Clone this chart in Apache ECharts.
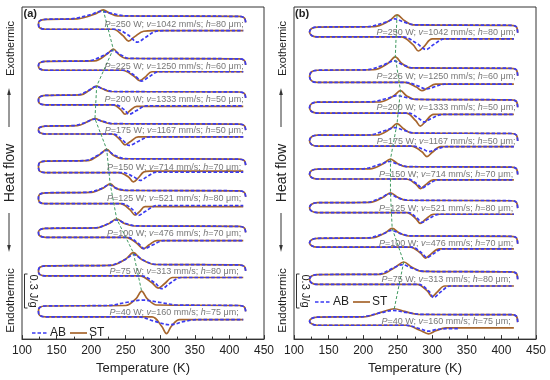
<!DOCTYPE html>
<html><head><meta charset="utf-8">
<script src="https://cdn.jsdelivr.net/npm/echarts@6/dist/echarts.min.js"></script>
<style>html,body{margin:0;padding:0;background:#fff}#c{width:550px;height:380px}</style>
</head><body><div id="c"></div>
<script>
// ---- data (heat flow in arbitrary offset units; 33.6 units = 0.3 J/g) ----
const xTicks = [100,150,200,250,300,350,400,450];
const P = [250,225,200,175,150,125,100,75,40];
const V = [1042,1250,1333,1167,714,521,476,313,160];
const H = [80,60,50,50,70,80,70,80,75];

// panel (a): baseline levels
const aUR = [326.5,283.5,250,217.5,182,150,114,75,34];
const aUL = [323.5,281,246.5,215.5,180,148,112,74,33.5];
const aLL = [313.5,272,237,207.5,168.5,137,103,64,22.5];
// panel (a): cooling (upper) features, high T -> low T
const aSTcool = [
 [[238,327],[226,330],[217.5,333],[206,329],[180,324]],
 [[250,284],[240,288],[232,293.5],[224,289],[205,281.5]],
 [[228,250.5],[217,253],[208,256],[198,252],[185,247]],
 [[228,218],[215,220.5],[205.5,223],[195,220],[180,216]],
 [[245,182.5],[232,186],[222.5,192],[213,187],[195,180.5]],
 [[248,150.5],[236,152.5],[227.5,157],[218,153],[200,148.5]],
 [[262,114.5],[248,117],[237,121.5],[226,117],[208,112.5]],
 [[292,75.5],[272,81],[261,87.5],[250,81],[228,74.5]],
 [[295,34.5],[281,41],[273,48.5],[265,41],[250,34]]
];
const aABcool = [
 [[250,327],[230,329.5],[214,331.5],[198,328],[170,324]],
 [[255,284],[242,288],[231,292],[220,287.5],[195,281.5]],
 [[232,250.5],[218,253],[207,255.5],[195,251],[180,247]],
 [[232,218],[216,220.5],[205,222.5],[193,219.5],[175,216]],
 [[250,182.5],[234,186],[222,191],[210,186],[190,180.5]],
 [[252,150.5],[237,152.5],[226,156],[214,152],[195,148.5]],
 [[265,114.5],[250,117],[236,120.5],[224,116.5],[205,112.5]],
 [[295,75.5],[275,80],[262,85.5],[248,80],[225,74.5]],
 [[325,34.5],[300,37],[275,39.5],[250,37],[225,34]]
];
// panel (a): heating (lower) features, low T -> high T
const aSTheat = [
 [[232,313.5],[246,307],[254,301.5],[263,306],[276,311.5],[290,312]],
 [[245,272],[262,266],[270.5,261.5],[278,265],[288,270.5]],
 [[232,237],[243,232],[249,227.5],[256,231],[266,235.5]],
 [[230,207.5],[242,201.5],[249,196.5],[257,200],[268,204.5]],
 [[240,168.5],[254,164],[261,159],[268,163],[276,169],[285,170]],
 [[242,137],[256,131],[263.5,125.5],[270,129],[278,134]],
 [[250,103],[266,97],[275.5,91.5],[284,95.5],[295,99.7]],
 [[270,64],[288,57],[297,51.5],[306,56],[318,62.3]],
 [[288,22.5],[302,13],[309,5.5],[316,13],[328,19.7]]
];
const aABheat = [
 [[235,313.5],[253,308],[267,300.5],[278,305],[292,311],[305,312]],
 [[248,272],[264,266],[273,261],[283,265],[298,270.5]],
 [[235,237],[248,232],[255,227.5],[265,231],[280,236]],
 [[232,207.5],[246,201],[255,196],[268,200],[285,204.7]],
 [[245,168.5],[262,164],[271,160.5],[280,164],[295,169]],
 [[245,137],[260,131],[268,125],[278,129],[295,135]],
 [[252,103],[268,97],[277,91.5],[288,95],[305,99.7]],
 [[272,64],[292,57],[302,51],[313,56],[330,62.3]],
 [[268,22.5],[292,18],[314,14.5],[335,18],[355,19.7]]
];
const aHeatEnd = [420,420,420,420,420,420,420,420,420];

// panel (b)
const bUR = [317.5,274,242,208,174,140,104,68,24.7];
const bUL = [315.7,272,239.7,206.3,172,138,102,65.3,22.3];
const bLL = [305.7,259.7,228.7,195.3,162,128,93,55.3,14];
const bSTcool = [
 [[272,318],[260,322],[249,328],[238,322],[215,316]],
 [[268,274.5],[256,279],[246.5,285.5],[236,279],[215,272.5]],
 [[275,242.5],[263,246],[254,251.3],[244,246],[225,240]],
 [[270,208.5],[259,212.5],[249,218],[239,212.5],[220,206.5]],
 [[262,174.5],[250,177.5],[239.5,182],[229,177.5],[210,172.3]],
 [[262,140.5],[250,143.5],[239.5,148],[229,143.5],[210,138.3]],
 [[265,104.5],[252,107.5],[242,112],[232,107.5],[212,102.3]],
 [[285,68.5],[270,73],[258.7,78],[247,73],[225,65.5]],
 [[280,25],[260,28],[245,30.7],[228,27.5],[200,22.5]]
];
const bABcool = [
 [[275,318],[258,321],[246,324],[232,320.5],[205,316]],
 [[272,274.5],[256,278],[244,281.5],[230,277.5],[205,272.5]],
 [[278,242.5],[262,244.5],[249,246.3],[235,243.5],[210,240]],
 [[274,208.5],[258,211.5],[246,214],[232,211],[208,206.5]],
 [[265,174.5],[250,177],[238,179.7],[225,177],[200,172.3]],
 [[265,140.5],[250,143],[238,147],[226,143],[205,138.3]],
 [[268,104.5],[253,107],[241,110],[229,106.5],[205,102.3]],
 [[288,68.5],[270,72],[257,75.3],[244,72],[220,65.5]],
 [[285,25],[262,27],[243,29],[225,26.5],[195,22.5]]
];
const bSTheat = [
 [[255,305.7],[272,298],[280,291.5],[288,296],[300,303.7]],
 [[260,259.7],[277,255],[285,251.3],[293,254],[305,258]],
 [[262,228.7],[276,221],[282.7,215.5],[290,220],[302,227.3]],
 [[270,195.3],[285,189.5],[292.3,184.7],[300,189],[312,194.7]],
 [[262,162],[276,157],[282.7,152.3],[290,156],[302,161]],
 [[263,128],[276,122],[282.7,117],[290,121],[302,126.3]],
 [[268,93],[283,87],[290,82],[298,86],[310,91.3]],
 [[278,55.3],[293,48.5],[299.6,43],[307,47.5],[318,53.7]],
 [[262,14],[282,9],[294.6,5.3],[305,8.5],[320,11.3]]
];
const bABheat = [
 [[258,305.7],[278,299],[291,293],[302,298],[318,303.7]],
 [[262,259.7],[280,256],[291,253],[302,255],[318,258]],
 [[265,228.7],[280,223.5],[288,219.7],[298,223],[315,227.3]],
 [[272,195.3],[287,192],[295,189.7],[305,192],[320,194.7]],
 [[264,162],[278,157],[285,153],[293,156],[308,161]],
 [[265,128],[278,122.5],[285,118],[294,121.5],[310,126.3]],
 [[270,93],[285,87],[292,82.5],[301,86],[315,91.3]],
 [[280,55.3],[295,48.5],[302,42],[311,47],[326,53.7]],
 [[262,14],[282,10.5],[294.6,8],[305,9.5],[320,10.5]]
];
const bSTheatEnd = [418,418,418,418,418,418,418,418,418];
const bABheatEnd = [418,418,418,418,418,418,418,418,339];

// ---- styling ----
const FONT = 'Liberation Sans, Arial, sans-serif';
const C_AB = '#3a3af2', C_ST = '#a6652c', C_G = '#3f9a60';

function loop(UR, UL, LL, cool, heat, endT, hook, leftT){
  const pts = [[423.5, UR-hook],[421.5, UR-1.5],[414, UR]];
  cool.forEach(p=>pts.push(p));
  pts.push([134, UL],[125.5, UL-1.5],[leftT,(UL+LL)/2],[125.5, LL+1.5],[134, LL]);
  heat.forEach(p=>pts.push(p));
  pts.push([endT, heat[heat.length-1][1]]);
  return pts;
}
const series = [];
function panel(g, UR, UL, LL, STc, ABc, STh, ABh, STend, ABend, hook, leftT){
  for(let i=0;i<9;i++){
    series.push({type:'line', xAxisIndex:g, yAxisIndex:g, showSymbol:false, symbol:'none', smooth:0.35,
      data: loop(UR[i],UL[i],LL[i],STc[i],STh[i],STend[i],hook,leftT),
      lineStyle:{color:C_ST, width:1.7}, z:2, silent:true});
  }
  for(let i=0;i<9;i++){
    series.push({type:'line', xAxisIndex:g, yAxisIndex:g, showSymbol:false, symbol:'none', smooth:0.35,
      data: loop(UR[i],UL[i],LL[i],ABc[i],ABh[i],ABend[i],hook,leftT),
      lineStyle:{color:C_AB, width:1.7, type:[3.5,2]}, z:3, silent:true});
  }
  series.push({type:'line', xAxisIndex:g, yAxisIndex:g, showSymbol:false, symbol:'none',
    data: STc.map(c=>c[2]), lineStyle:{color:C_G, width:1, type:[3,2]}, z:4, silent:true});
  series.push({type:'scatter', xAxisIndex:g, yAxisIndex:g, symbolSize:1, itemStyle:{color:'rgba(0,0,0,0)'}, z:5, silent:true,
    data: UR.map((u,i)=>[320,(u+LL[i])/2-1.5]),
    label:{show:true, position:'inside', fontSize:9, color:'#555', fontFamily:FONT,
      formatter: p=>'{i|P}='+P[p.dataIndex]+' W; {i|v}='+V[p.dataIndex]+' mm/s; {i|h}='+H[p.dataIndex]+' μm;',
      rich:{i:{fontStyle:'italic', fontSize:9, color:'#555', fontFamily:FONT}}}});
}
panel(0, aUR,aUL,aLL, aSTcool,aABcool,aSTheat,aABheat, aHeatEnd,aHeatEnd, 6, 123.8);
panel(1, bUR,bUL,bLL, bSTcool,bABcool,bSTheat,bABheat, bSTheatEnd,bABheatEnd, 7.5, 122.5);

function txt(x,y,t,size,rot,extra){
  return Object.assign({type:'text', x:x, y:y, rotation:rot||0, silent:true,
    style:{text:t, fontSize:size, fontFamily:FONT, fill:'#222', align:'center', verticalAlign:'middle', textAlign:'center', textVerticalAlign:'middle'}}, extra||{});
}
const graphic = [];
[0,272].forEach(ox=>{
  graphic.push(txt(ox+11,48.5,'Exothermic',11,Math.PI/2));
  graphic.push({type:'line', silent:true, shape:{x1:ox+9,y1:127,x2:ox+9,y2:93}, style:{stroke:'#333',lineWidth:1}});
  graphic.push({type:'polygon', silent:true, shape:{points:[[ox+9,88],[ox+7.2,95],[ox+10.8,95]]}, style:{fill:'#333'}});
  graphic.push(txt(ox+10,173,'Heat flow',14,Math.PI/2));
  graphic.push({type:'line', silent:true, shape:{x1:ox+9,y1:213,x2:ox+9,y2:247}, style:{stroke:'#333',lineWidth:1}});
  graphic.push({type:'polygon', silent:true, shape:{points:[[ox+9,252],[ox+7.2,245],[ox+10.8,245]]}, style:{fill:'#333'}});
  graphic.push(txt(ox+11,300.5,'Endothermic',11.5,Math.PI/2));
  graphic.push({type:'polyline', silent:true, shape:{points:[[ox+27.5,274],[ox+24.5,274],[ox+24.5,308],[ox+27.5,308]]}, style:{stroke:'#333',lineWidth:1,fill:null}});
  graphic.push(txt(ox+33.5,291,'0.3 J/g',11,-Math.PI/2));
});
function legend(x,y){
  graphic.push({type:'line', silent:true, shape:{x1:x,y1:y,x2:x+16,y2:y}, style:{stroke:C_AB,lineWidth:1.7,lineDash:[3.5,2]}});
  graphic.push({type:'text', silent:true, x:x+18, y:y, style:{text:'AB', fontSize:12, fontFamily:FONT, fill:'#222', verticalAlign:'middle', textVerticalAlign:'middle'}});
  graphic.push({type:'line', silent:true, shape:{x1:x+38,y1:y,x2:x+55,y2:y}, style:{stroke:C_ST,lineWidth:1.7}});
  graphic.push({type:'text', silent:true, x:x+57, y:y, style:{text:'ST', fontSize:12, fontFamily:FONT, fill:'#222', verticalAlign:'middle', textVerticalAlign:'middle'}});
}
legend(32,333);
legend(315,302);
graphic.push({type:'text', silent:true, x:23.5, y:14, style:{text:'(a)', fontSize:11, fontWeight:'bold', fontFamily:FONT, fill:'#222', verticalAlign:'middle', textVerticalAlign:'middle'}});
graphic.push({type:'text', silent:true, x:295, y:14, style:{text:'(b)', fontSize:11, fontWeight:'bold', fontFamily:FONT, fill:'#222', verticalAlign:'middle', textVerticalAlign:'middle'}});

const xAx = g=>({gridIndex:g, type:'value', min:xTicks[0], max:xTicks[xTicks.length-1], interval:xTicks[1]-xTicks[0],
  axisLine:{lineStyle:{color:'#333'}}, axisTick:{inside:true,length:4,lineStyle:{color:'#333'}},
  minorTick:{show:true, splitNumber:2, length:2.5, lineStyle:{color:'#333'}}, splitLine:{show:false},
  axisLabel:{margin:6, fontSize:12, color:'#222', fontFamily:FONT, showMinLabel:true, showMaxLabel:true},
  name:'Temperature (K)', nameLocation:'middle', nameGap:21, nameTextStyle:{fontSize:13, color:'#222', fontFamily:FONT}});
const option = {
  animation:false, backgroundColor:'#fff',
  grid:[{left:22,top:7,width:242,height:336,show:true,borderColor:'#333',borderWidth:1,backgroundColor:'transparent'},
        {left:294,top:7,width:242,height:336,show:true,borderColor:'#333',borderWidth:1,backgroundColor:'transparent'}],
  xAxis:[xAx(0), xAx(1)],
  yAxis:[{gridIndex:0,type:'value',min:0,max:336,show:false},{gridIndex:1,type:'value',min:0,max:336,show:false}],
  series: series, graphic: graphic
};
const chart = echarts.init(document.getElementById('c'), null, {renderer:'canvas'});
chart.setOption(option);
</script></body></html>
